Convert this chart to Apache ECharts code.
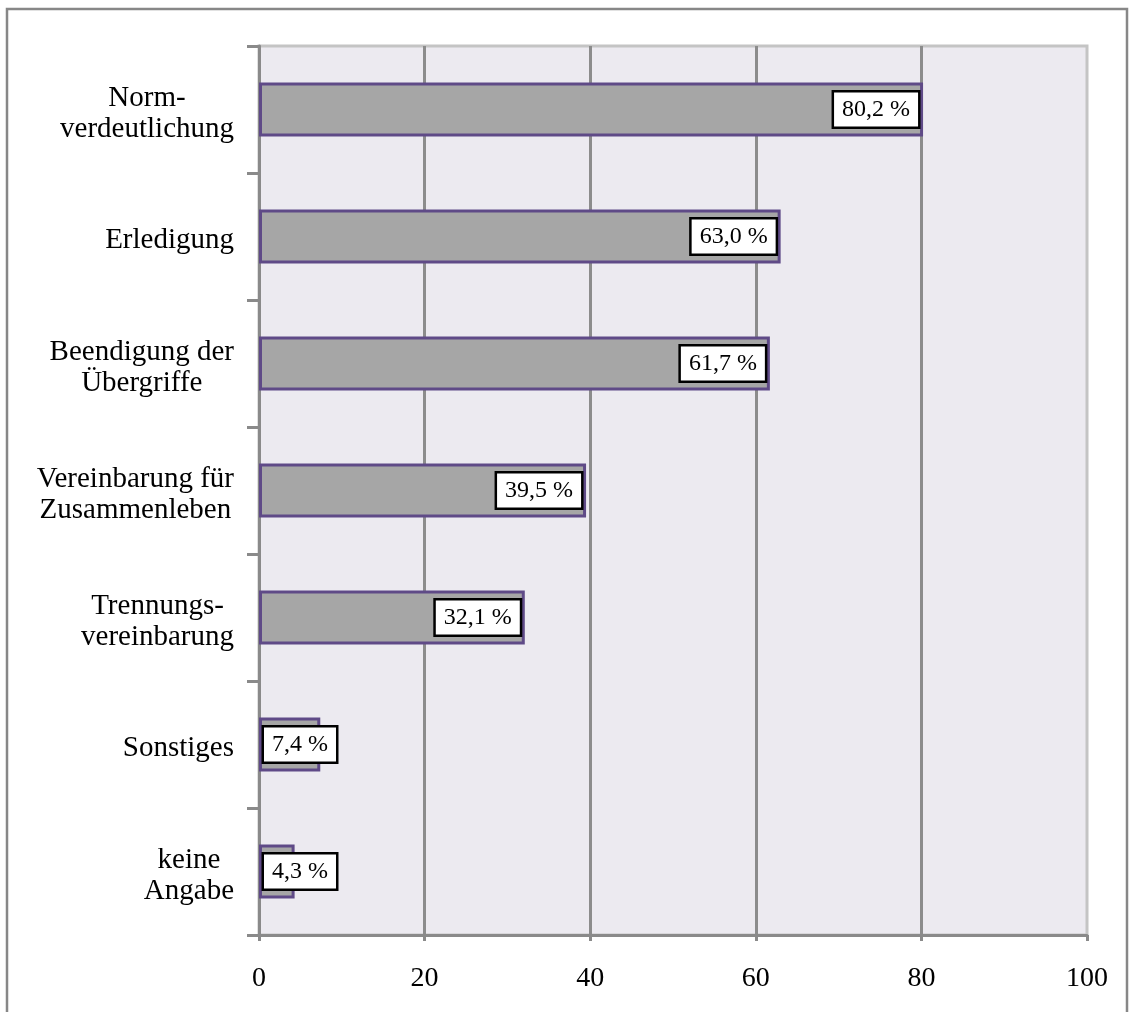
<!DOCTYPE html>
<html>
<head>
<meta charset="utf-8">
<script src="https://cdn.jsdelivr.net/npm/echarts@6/dist/echarts.min.js"></script>
<style>
  html, body { margin: 0; padding: 0; background: #fff; }
  #chart { width: 1129px; height: 1012px; }
</style>
</head>
<body>
<div id="chart"></div>
<script>
// categories, top to bottom
var categories = [
  'Norm-\nverdeutlichung',
  'Erledigung',
  'Beendigung der\nÜbergriffe',
  'Vereinbarung für\nZusammenleben',
  'Trennungs-\nvereinbarung',
  'Sonstiges',
  'keine\nAngabe'
];
var values = [80.2, 63.0, 61.7, 39.5, 32.1, 7.4, 4.3];
var xTicks = [0, 20, 40, 60, 80, 100];

var font = '"Liberation Serif", "Times New Roman", serif';

var chart = echarts.init(document.getElementById('chart'));

var barData = values.map(function (v) {
  return {
    value: v,
    label: { position: v < 15 ? 'insideLeft' : 'insideRight' }
  };
});

chart.setOption({
  backgroundColor: '#fff',
  animation: false,
  graphic: [{
    type: 'rect',
    shape: { x: 7, y: 9, width: 1120, height: 1030 },
    style: { fill: 'none', stroke: '#878787', lineWidth: 2.5 },
    silent: true
  }],
  grid: {
    left: 259,
    right: 42,
    top: 46,
    bottom: 77,
    show: true,
    backgroundColor: '#ECEAF0',
    borderColor: '#C4C4C4',
    borderWidth: 3
  },
  xAxis: {
    type: 'value',
    min: xTicks[0],
    max: xTicks[xTicks.length - 1],
    interval: 20,
    axisLine: { show: true, lineStyle: { color: '#8A8A8A', width: 3 } },
    axisTick: { show: true, length: 6, lineStyle: { color: '#8A8A8A', width: 3 } },
    axisLabel: { color: '#000', fontFamily: font, fontSize: 28, margin: 30 },
    splitLine: {
      show: true,
      showMinLine: false,
      showMaxLine: false,
      lineStyle: { color: '#8C8C8C', width: 3 }
    }
  },
  yAxis: {
    type: 'category',
    inverse: true,
    data: categories,
    axisLine: { show: true, lineStyle: { color: '#8A8A8A', width: 3 } },
    axisTick: { show: true, length: 12, lineStyle: { color: '#8A8A8A', width: 3 } },
    axisLabel: {
      margin: 25,
      align: 'right',
      padding: [8, 0, 0, 0],
      formatter: function (v) {
        return v.split('\n').map(function (s) { return '{c|' + s + '}'; }).join('\n');
      },
      rich: {
        c: { align: 'center', color: '#000', fontFamily: font, fontSize: 29, lineHeight: 31 }
      }
    },
    splitLine: { show: false }
  },
  series: [{
    type: 'bar',
    data: barData,
    barWidth: 54,
    itemStyle: { color: '#A6A6A6', borderColor: '#5F4A87', borderWidth: 3 },
    label: {
      show: true,
      distance: 5,
      color: '#000',
      fontFamily: font,
      fontSize: 24,
      backgroundColor: '#fff',
      borderColor: '#000',
      borderWidth: 2.5,
      padding: [6, 8, 4, 8],
      formatter: function (p) {
        return p.value.toFixed(1).replace('.', ',') + ' %';
      }
    }
  }]
});
</script>
</body>
</html>
